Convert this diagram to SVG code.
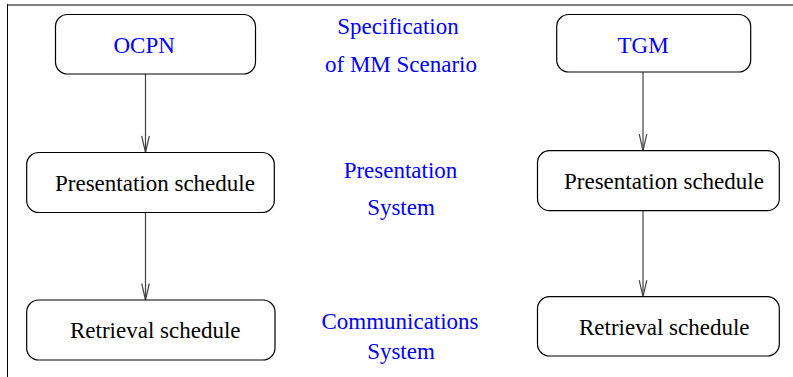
<svg xmlns="http://www.w3.org/2000/svg" width="793" height="377" viewBox="0 0 793 377">
<style>
.box{fill:#fff;stroke:#000;stroke-width:1.2}
.t{font-family:'Liberation Serif','DejaVu Serif',serif;font-size:23px;fill:#000}
.b{fill:#0000ff}
.c{stroke:#444;stroke-width:1.2;fill:none}
.ah{stroke:#444;stroke-width:1.2;fill:none}
</style>
<defs>
<marker id="arr" markerWidth="12" markerHeight="20" viewBox="-6 -18 12 20" refX="0" refY="0" orient="0" markerUnits="userSpaceOnUse">
<path class="ah" d="M-3.8,-16.5 L0,0 L3.8,-16.5"/>
</marker>
</defs>
<g id="frame">
<line x1="7" y1="5" x2="793" y2="5" stroke="#808080" stroke-width="2"/>
<line x1="7.5" y1="4" x2="7.5" y2="377" stroke="#000" stroke-width="1"/>
</g>
<g id="connectors">
<line class="c" x1="145.5" y1="74" x2="145.5" y2="152.5" marker-end="url(#arr)"/>
<line class="c" x1="145.5" y1="212.5" x2="145.5" y2="300" marker-end="url(#arr)"/>
<line class="c" x1="643" y1="72" x2="643" y2="150.7" marker-end="url(#arr)"/>
<line class="c" x1="643" y1="210.7" x2="643" y2="296.7" marker-end="url(#arr)"/>
</g>
<g id="ocpn">
<rect class="box" x="55.5" y="14.5" width="200" height="59.5" rx="12"/>
<text class="t b" font-family="Liberation Serif, serif" x="113.5" y="52.7">OCPN</text>
</g>
<g id="tgm">
<rect class="box" x="556.7" y="14.5" width="194" height="57.5" rx="12"/>
<text class="t b" font-family="Liberation Serif, serif" x="617.5" y="52.7">TGM</text>
</g>
<g id="pres-left">
<rect class="box" x="26.7" y="152.5" width="247.6" height="60" rx="12"/>
<text class="t" font-family="Liberation Serif, serif" x="55" y="191">Presentation schedule</text>
</g>
<g id="pres-right">
<rect class="box" x="537.5" y="150.7" width="241.8" height="60" rx="12"/>
<text class="t" font-family="Liberation Serif, serif" x="564" y="189">Presentation schedule</text>
</g>
<g id="retr-left">
<rect class="box" x="26.7" y="300" width="248.3" height="60" rx="12"/>
<text class="t" font-family="Liberation Serif, serif" x="70" y="338.3">Retrieval schedule</text>
</g>
<g id="retr-right">
<rect class="box" x="537.5" y="296.7" width="241.8" height="59.3" rx="12"/>
<text class="t" font-family="Liberation Serif, serif" x="579" y="335">Retrieval schedule</text>
</g>
<g id="labels" text-anchor="middle" font-family="Liberation Serif, serif">
<text class="t b" x="398" y="34">Specification</text>
<text class="t b" x="401" y="72">of MM Scenario</text>
<text class="t b" x="400.5" y="178.3">Presentation</text>
<text class="t b" x="401" y="215">System</text>
<text class="t b" x="400" y="329.3">Communications</text>
<text class="t b" x="401" y="359.3">System</text>
</g>
</svg>
